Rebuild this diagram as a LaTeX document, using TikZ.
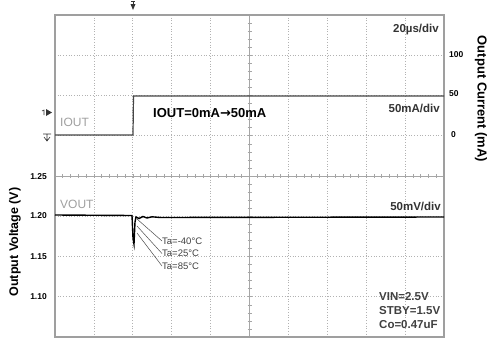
\documentclass[tikz,border=0pt]{standalone}
\usepackage{fontspec}
\setmainfont{Liberation Sans}
\newfontfamily\arrowfont{DejaVu Sans}
\usetikzlibrary{positioning}
\begin{document}
\begin{tikzpicture}[x=1pt,y=-1pt,
    grid/.style={gray!60,line width=0.7pt,dotted},
    axis/.style={gray!70,line width=0.6pt},
    frame/.style={gray!75,line width=1.1pt},
    itrace/.style={gray!55!black,line width=1.2pt},
    vtrace/.style={black,line width=1.4pt},
    lead/.style={gray!60!black,line width=0.5pt},
    div/.style={font=\fontsize{11.5}{12}\selectfont\bfseries,text=black!80,inner sep=0pt},
    tick/.style={font=\fontsize{8.5}{9}\selectfont\bfseries,inner sep=0pt},
    chan/.style={font=\fontsize{12}{12}\selectfont,text=gray!75,inner sep=0pt},
    temp/.style={font=\fontsize{9.5}{10}\selectfont,text=black!75,inner sep=0pt,anchor=west},
    cond/.style={font=\fontsize{11.5}{12}\selectfont\bfseries,text=black!75,inner sep=0pt,anchor=west}]
  \useasboundingbox (0,0) rectangle (488,340);

  % grid
  \foreach \i in {1,...,9}
    \draw[grid] ({55+\i*38.9},15) -- ({55+\i*38.9},337);
  \foreach \j in {1,...,7}
    \draw[grid] (55,{15+\j*40.25}) -- (444,{15+\j*40.25});

  % centre axes with ticks
  \draw[axis] (249.5,15) -- (249.5,337);
  \draw[axis] (55,176) -- (444,176);
  \foreach \k in {1,...,39}
    \draw[axis] (247.5,{15+\k*8.05}) -- (251.5,{15+\k*8.05});
  \foreach \k in {1,...,49}
    \draw[axis] ({55+\k*7.78},174) -- ({55+\k*7.78},178);

  \draw[frame] (55,15) rectangle (444,337);

  % traces
  \draw[itrace] (55,135) -- (133,135) -- (133.5,96) -- (444,96);
  \draw[vtrace] (55,215) -- (132,215.5) -- (133,238) -- (134,244) -- (135,222)
    -- (136,217) -- (139,218.5) -- (143,216.5) -- (147,218) -- (152,216.8)
    -- (160,217.5) -- (444,217);

  % markers
  \fill[black!80] (130.5,4) -- (135.5,4) -- (133,10) -- cycle;
  \draw[black!80,line width=0.6pt] (131,1) -- (135,1) (133,1) -- (133,4);
  \fill[black!80] (46,109) -- (52,112.5) -- (46,116) -- cycle;
  \draw[black!80,line width=0.6pt] (42,111) -- (44,110) -- (44,115);
  \draw[black!80,line width=0.6pt] (47,134) -- (47,141) (44,137) -- (47,141) -- (50,137)
    (43,134) -- (51,134);

  % labels
  \node[div,anchor=east] (tdiv) at (439,30) {20µs/div};
  \node[div,anchor=east] (idiv) at (440,108) {50mA/div};
  \node[div,anchor=east] (vdiv) at (441,206) {50mV/div};
  \node[font=\fontsize{13}{14}\selectfont\bfseries,anchor=west,inner sep=0pt] (step) at (153,113) {IOUT=0mA{\arrowfont\bfseries →}50mA};
  \node[chan,anchor=west] (iout) at (60,122.5) {IOUT};
  \node[chan,anchor=west] (vout) at (60,204) {VOUT};

  \node[tick,anchor=west] (i100) at (449,55) {100};
  \node[tick,anchor=west] (i50) at (449,94) {50};
  \node[tick,anchor=west] (i0) at (451,135) {0};
  \node[tick,anchor=east] (v125) at (47,177) {1.25};
  \node[tick,anchor=east] (v120) at (47,216) {1.20};
  \node[tick,anchor=east] (v115) at (47,257) {1.15};
  \node[tick,anchor=east] (v110) at (47,297) {1.10};

  \node[font=\fontsize{13}{14}\selectfont\bfseries,rotate=-90,inner sep=0pt] (ilabel) at (481,99) {Output Current (mA)};
  \node[font=\fontsize{12.5}{14}\selectfont\bfseries,rotate=90,inner sep=0pt] (vlabel) at (15,242) {Output Voltage (V)};

  % temperatures
  \node[temp] (t40) at (162,241) {Ta=-40°C};
  \node[temp] (t25) at (162,253.5) {Ta=25°C};
  \node[temp] (t85) at (162,266) {Ta=85°C};
  \coordinate (p40) at (137,219);
  \coordinate (p25) at (137,226);
  \coordinate (p85) at (137,233);
  \draw[lead] (p40) -- (t40.west);
  \draw[lead] (p25) -- (t25.west);
  \draw[lead] (p85) -- (t85.west);

  % conditions
  \node[cond] (vin) at (379,297) {VIN=2.5V};
  \node[cond] (stby) at (379,311) {STBY=1.5V};
  \node[cond] (co) at (379,325) {Co=0.47uF};
\end{tikzpicture}
\end{document}
